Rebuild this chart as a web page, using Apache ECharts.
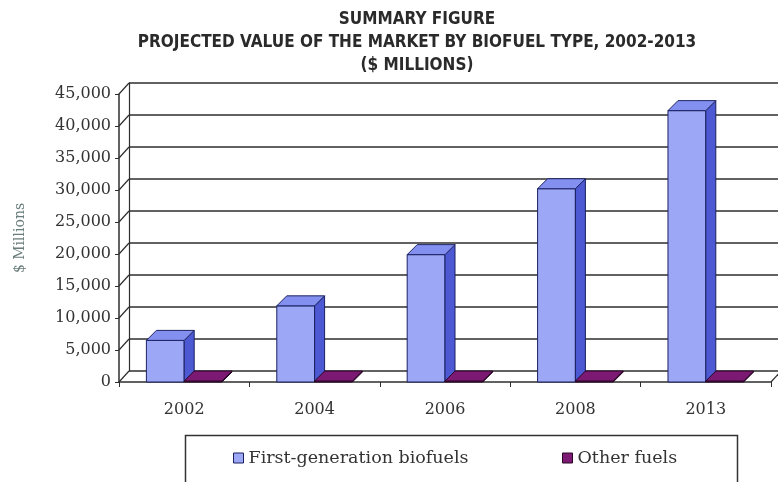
<!DOCTYPE html>
<html>
<head>
<meta charset="utf-8">
<script src="https://cdn.jsdelivr.net/npm/echarts@6/dist/echarts.min.js"></script>
<style>
html,body{margin:0;padding:0;background:#fff;}
#chart{width:778px;height:482px;}
</style>
</head>
<body>
<div id="chart"></div>
<script>
// ---- data ----
const categories = ['2002', '2004', '2006', '2008', '2013'];
const firstGenBiofuels = [6500, 11900, 19900, 30200, 42400];
const otherFuels = [150, 150, 150, 150, 150];
const yTickValues = [0, 5000, 10000, 15000, 20000, 25000, 30000, 35000, 40000, 45000];
const seriesNames = ['First-generation biofuels', 'Other fuels'];
const titleLines = ['SUMMARY FIGURE', 'PROJECTED VALUE OF THE MARKET BY BIOFUEL TYPE, 2002-2013', '($ MILLIONS)'];

// ---- layout / style ----
const FRONT = { left: 119, top: 94, width: 652, height: 288 };
const WALL_DX = 10, WALL_DY = -11;
const BAR_DX = 10, BAR_DY = -10;
const BAR_FRAC = 0.29;
const LINE = '#2e2e2e';
const SERIF = "'DejaVu Serif', 'Liberation Serif', serif";
const blue = { front: '#9ca7f5', top: '#8490ef', side: '#4c59d3', stroke: '#1b2160' };
const purple = { front: '#6e1466', top: '#7c1a73', side: '#5a0f54', stroke: '#2a0626' };

function cuboid(api, side, col) {
  const cat = api.value(0), val = api.value(1);
  const base = api.coord([cat, 0]);
  const top = api.coord([cat, val]);
  const band = api.size([1, 0])[0];
  const w = band * BAR_FRAC;
  const x0 = side < 0 ? base[0] - w : base[0];
  const x1 = x0 + w;
  const yb = base[1], yt = top[1];
  const st = { stroke: col.stroke, lineWidth: 1 };
  return {
    type: 'group',
    children: [
      { type: 'rect', shape: { x: x0, y: yt, width: w, height: yb - yt },
        style: Object.assign({ fill: col.front }, st) },
      { type: 'polygon', shape: { points: [[x1, yb], [x1 + BAR_DX, yb + BAR_DY], [x1 + BAR_DX, yt + BAR_DY], [x1, yt]] },
        style: Object.assign({ fill: col.side }, st) },
      { type: 'polygon', shape: { points: [[x0, yt], [x0 + BAR_DX, yt + BAR_DY], [x1 + BAR_DX, yt + BAR_DY], [x1, yt]] },
        style: Object.assign({ fill: col.top }, st) }
    ]
  };
}

const chart = echarts.init(document.getElementById('chart'), null, { renderer: 'canvas' });

const option = {
  backgroundColor: '#ffffff',
  animation: false,
  title: {
    text: titleLines.join('\n'),
    left: 412,
    textAlign: 'center',
    top: 3,
    textStyle: {
      fontFamily: "'Liberation Sans Narrow', 'DejaVu Sans Condensed', 'Liberation Sans', sans-serif",
      fontWeight: 'bold',
      fontSize: 17,
      lineHeight: 23,
      color: '#2a2a2a'
    }
  },
  graphic: [
    { type: 'rect', left: 183, top: 433, shape: { width: 552, height: 70 },
      style: { fill: 'none', stroke: '#333', lineWidth: 1.5 }, z: 0 }
  ],
  legend: [
    { data: [{ name: seriesNames[0], icon: 'rect', itemStyle: { color: blue.front, borderColor: blue.stroke, borderWidth: 1 } }],
      left: 233, top: 449, padding: 0, itemWidth: 10, itemHeight: 10, itemGap: 5,
      textStyle: { fontFamily: SERIF, fontSize: 17.5, color: '#333' } },
    { data: [{ name: seriesNames[1], icon: 'rect', itemStyle: { color: purple.top, borderColor: purple.stroke, borderWidth: 1 } }],
      left: 562, top: 449, padding: 0, itemWidth: 10, itemHeight: 10, itemGap: 5,
      textStyle: { fontFamily: SERIF, fontSize: 17.5, color: '#333' } }
  ],
  grid: [
    { left: FRONT.left, top: FRONT.top, width: FRONT.width, height: FRONT.height },
    { left: FRONT.left + WALL_DX, top: FRONT.top + WALL_DY, width: FRONT.width, height: FRONT.height }
  ],
  xAxis: [
    { type: 'category', gridIndex: 0, data: categories, boundaryGap: true,
      axisLine: { show: true, lineStyle: { color: LINE, width: 1.5 } },
      axisTick: { show: true, interval: 0, length: 5, lineStyle: { color: LINE } },
      axisLabel: { margin: 20, fontFamily: SERIF, fontSize: 16, color: '#333' },
      splitLine: { show: false } },
    { type: 'category', gridIndex: 1, data: categories, boundaryGap: true, show: false }
  ],
  yAxis: [
    { type: 'value', gridIndex: 0, min: 0, max: 45000, interval: 5000,
      axisLine: { show: true, lineStyle: { color: LINE, width: 1.5 } },
      axisTick: { show: true, length: 4, lineStyle: { color: LINE } },
      axisLabel: { margin: 8, fontFamily: SERIF, fontSize: 16, color: '#333',
        formatter: v => v.toLocaleString('en-US') },
      splitLine: { show: false },
      name: '$ Millions', nameLocation: 'middle', nameGap: 92,
      nameTextStyle: { fontFamily: SERIF, fontSize: 14, color: '#6a7c7c' } },
    { type: 'value', gridIndex: 1, min: 0, max: 45000, interval: 5000,
      axisLine: { show: true, lineStyle: { color: LINE, width: 1.2 } },
      axisTick: { show: false }, axisLabel: { show: false },
      splitLine: { show: true, lineStyle: { color: LINE, width: 1.5 } } }
  ],
  series: [
    { type: 'custom', name: 'walls', xAxisIndex: 0, yAxisIndex: 0, silent: true, z: 1,
      data: yTickValues.map(v => [0, v]),
      renderItem: function (params, api) {
        const v = api.value(1);
        const p = api.coord([0, v]);
        const band = api.size([1, 0])[0];
        const xl = p[0] - band / 2;
        const children = [
          { type: 'line', shape: { x1: xl, y1: p[1], x2: xl + WALL_DX, y2: p[1] + WALL_DY },
            style: { stroke: LINE, lineWidth: 1.2 } }
        ];
        if (v === 0) {
          const xr = api.coord([categories.length - 1, 0])[0] + band / 2;
          children.push({ type: 'line', shape: { x1: xr, y1: p[1], x2: xr + WALL_DX, y2: p[1] + WALL_DY },
            style: { stroke: LINE, lineWidth: 1.2 } });
        }
        return { type: 'group', children: children };
      } },
    { type: 'custom', name: seriesNames[0], xAxisIndex: 0, yAxisIndex: 0, z: 3,
      itemStyle: { color: blue.front },
      data: categories.map((c, i) => [i, firstGenBiofuels[i]]),
      renderItem: (params, api) => cuboid(api, -1, blue) },
    { type: 'custom', name: seriesNames[1], xAxisIndex: 0, yAxisIndex: 0, z: 3,
      itemStyle: { color: purple.top },
      data: categories.map((c, i) => [i, otherFuels[i]]),
      renderItem: (params, api) => cuboid(api, 1, purple) }
  ]
};
chart.setOption(option);
</script>
</body>
</html>
